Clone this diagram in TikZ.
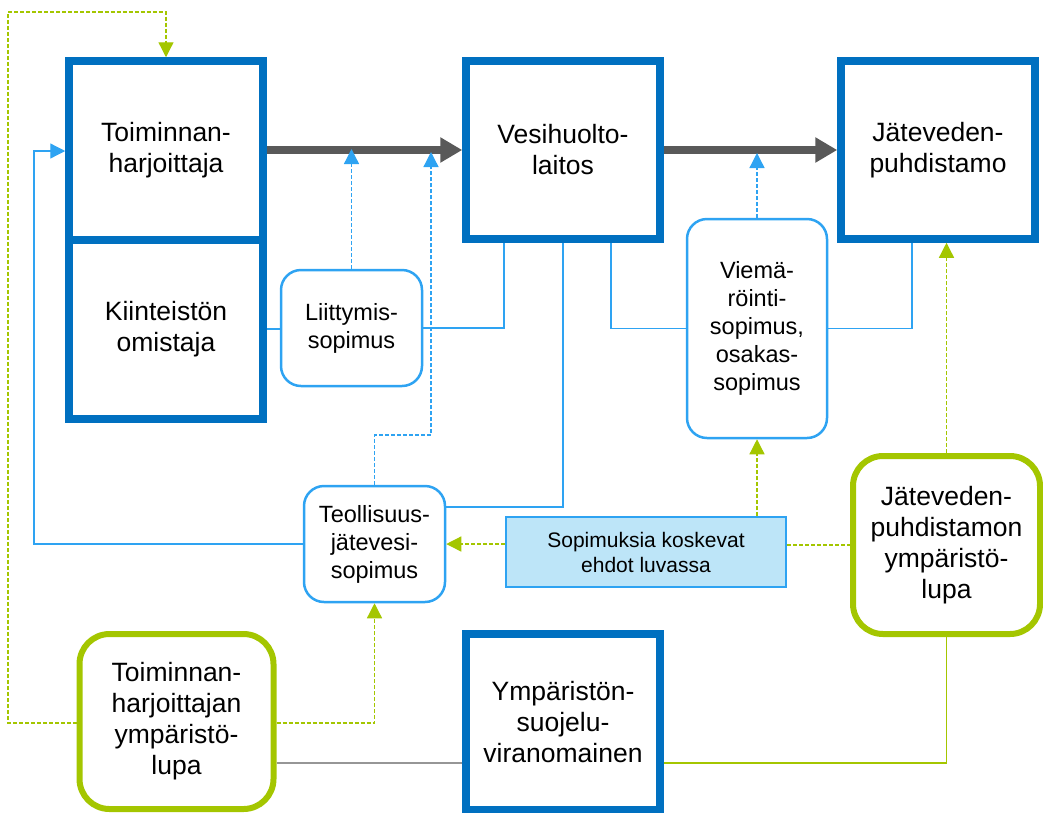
\documentclass[tikz,border=0pt]{standalone}
\usepackage{fontspec}
\setmainfont{Liberation Sans}
\usetikzlibrary{arrows.meta}
\definecolor{boxblue}{RGB}{0,112,192}
\definecolor{lineblue}{RGB}{46,163,242}
\definecolor{lupagreen}{RGB}{164,198,0}
\definecolor{arrowgray}{RGB}{89,89,89}
\definecolor{fillblue}{RGB}{189,229,248}
\definecolor{thingray}{RGB}{150,150,150}
\tikzset{
  mainbox/.style={draw=boxblue, line width=7.5pt, minimum width=194pt, align=center,
    font=\fontsize{26.5}{31}\selectfont, inner sep=2pt},
  lupabox/.style={draw=lupagreen, line width=6pt, rounded corners=30pt, align=center,
    font=\fontsize{26.5}{31}\selectfont, inner sep=2pt},
  sopbox/.style={draw=lineblue, line width=2.5pt, rounded corners=20pt, align=center,
    font=\fontsize{23.5}{28}\selectfont, inner sep=2pt},
  ehdbox/.style={draw=lineblue, fill=fillblue, line width=2pt, align=center,
    font=\fontsize{21}{25}\selectfont, inner sep=2pt},
  flowarrow/.style={draw=arrowgray, line width=8pt, -{Triangle[length=22pt,width=24pt]}},
  bluesolid/.style={draw=lineblue, line width=1.3pt},
  bluedash/.style={draw=lineblue, line width=1.3pt, dash pattern=on 4pt off 2pt},
  greendash/.style={draw=lupagreen, line width=1.3pt, dash pattern=on 4pt off 2pt},
  smalltip/.style={-{Triangle[length=15pt,width=15pt]}},
}
\begin{document}
\begin{tikzpicture}[x=1pt, y=-1pt]
\useasboundingbox (0,0) rectangle (1043,812);

% main blue boxes
\node[mainbox, minimum height=179pt] (toim) at (166,150.5) {Toiminnan-\\harjoittaja};
\node[mainbox, minimum height=179pt] (kiint) at (166,329.5) {Kiinteistön\\omistaja};
\node[mainbox, minimum height=178pt] (vesi) at (563,150) {Vesihuolto-\\laitos};
\node[mainbox, minimum height=178pt] (jate) at (938,150) {Jäteveden-\\puhdistamo};
\node[mainbox, minimum height=176pt] (ymp) at (563,722) {Ympäristön-\\suojelu-\\viranomainen};

% permit boxes
\node[lupabox, minimum width=194pt, minimum height=175pt] (tlupa) at (176.5,721.5) {Toiminnan-\\harjoittajan\\ympäristö-\\lupa};
\node[lupabox, minimum width=187pt, minimum height=178pt] (jlupa) at (946.5,545) {Jäteveden-\\puhdistamon\\ympäristö-\\lupa};

% contract boxes
\node[sopbox, minimum width=141pt, minimum height=116pt] (liit) at (351.5,328) {Liittymis-\\sopimus};
\node[sopbox, minimum width=141pt, minimum height=116pt] (teol) at (374.5,544) {Teollisuus-\\jätevesi-\\sopimus};
\node[sopbox, minimum width=140pt, minimum height=219pt] (viem) at (757,328.5) {Viemä-\\röinti-\\sopimus,\\osakas-\\sopimus};
\node[ehdbox, minimum width=280pt, minimum height=70pt] (ehdot) at (646,552) {Sopimuksia koskevat\\ehdot luvassa};

% flow arrows
\draw[flowarrow] (toim.east |- vesi.west) -- (vesi.west);
\draw[flowarrow] (vesi.east) -- (jate.west);

% blue dashed arrows onto the flow
\draw[bluedash, smalltip] (liit.north) -- (liit.north |- 0,149);
\draw[bluedash, smalltip] (teol.north) |- (431,435) -- (431,152);
\draw[bluedash, smalltip] (viem.north) -- (viem.north |- 0,153);

% blue solid connectors
\draw[bluesolid] (kiint.east |- 0,329) -- (liit.west |- 0,329);
\draw[bluesolid] (liit.east) -| (504,0 |- vesi.south);
\draw[bluesolid] (vesi.south) |- (teol.east |- 0,507);
\draw[bluesolid] (611,0 |- vesi.south) |- (viem.west);
\draw[bluesolid] (viem.east) -| (912,0 |- jate.south);
\draw[bluesolid, smalltip] (teol.west) -| (34,151) -- (toim.west |- 0,151);

% green dashed connectors
\draw[greendash, smalltip] (tlupa.west |- 0,723) -| (8,12) -| (toim.north);
\draw[greendash, smalltip] (tlupa.east |- 0,723) -| (teol.south);
\draw[greendash, smalltip] (ehdot.west |- teol.east) -- (teol.east);
\draw[greendash] (ehdot.east |- jlupa.west) -- (jlupa.west);
\draw[greendash, smalltip] (viem.south |- ehdot.north) -- (viem.south);
\draw[greendash, smalltip] (jlupa.north) -- (jlupa.north |- jate.south);

% authority connectors
\draw[draw=thingray, line width=1.3pt] (tlupa.east |- 0,763) -- (ymp.west |- 0,763);
\draw[draw=lupagreen, line width=1.3pt] (ymp.east |- 0,763) -| (jlupa.south);
\end{tikzpicture}
\end{document}
